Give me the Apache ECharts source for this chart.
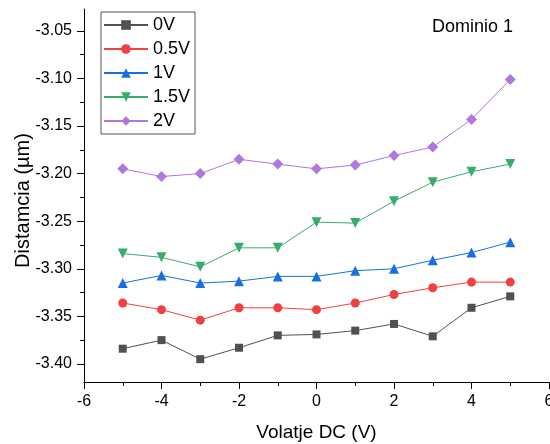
<!DOCTYPE html>
<html>
<head>
<meta charset="utf-8">
<script src="https://cdn.jsdelivr.net/npm/echarts@6/dist/echarts.min.js"></script>
<style>
html,body{margin:0;padding:0;background:#fff;}
#chart{width:550px;height:444px;}
</style>
</head>
<body>
<div id="chart"></div>
<script>
var voltajes = [-5, -4, -3, -2, -1, 0, 1, 2, 3, 4, 5];
var serieNombres = ['0V', '0.5V', '1V', '1.5V', '2V'];
var v0 = [-3.384, -3.375, -3.395, -3.383, -3.370, -3.369, -3.365, -3.358, -3.371, -3.341, -3.329];
var v05 = [-3.336, -3.343, -3.354, -3.341, -3.341, -3.343, -3.336, -3.327, -3.320, -3.314, -3.314];
var v1 = [-3.315, -3.307, -3.315, -3.313, -3.308, -3.308, -3.302, -3.300, -3.291, -3.283, -3.272];
var v15 = [-3.284, -3.288, -3.298, -3.278, -3.278, -3.251, -3.252, -3.229, -3.209, -3.198, -3.190];
var v2 = [-3.195, -3.203, -3.200, -3.185, -3.190, -3.195, -3.191, -3.181, -3.172, -3.143, -3.101];
var yTickLabels = [-3.40, -3.35, -3.30, -3.25, -3.20, -3.15, -3.10, -3.05];
var yMinorTicks = [-3.375, -3.325, -3.275, -3.225, -3.175, -3.125, -3.075];

var colores = ['#515151', '#f14040', '#1a6fdf', '#37ad6b', '#b177de'];
var simbolos = ['rect', 'circle', 'triangle', 'triangle', 'diamond'];
var tamanos = [8, 9, 10, 10, 11];
var rotaciones = [0, 0, 0, 180, 0];
var datos = [v0, v05, v1, v15, v2];

var font = 'Liberation Sans, Arial, sans-serif';
var yMin = -3.419, yMax = -3.027;

var series = serieNombres.map(function (n, i) {
  return {
    name: n,
    type: 'line',
    xAxisIndex: 0,
    yAxisIndex: 0,
    data: voltajes.map(function (x, k) { return [x, datos[i][k]]; }),
    symbol: simbolos[i],
    symbolSize: tamanos[i],
    symbolRotate: rotaciones[i],
    showAllSymbol: true,
    itemStyle: { color: colores[i] },
    lineStyle: { color: colores[i], width: 1 },
    emphasis: { disabled: true },
    animation: false
  };
});

var chart = echarts.init(document.getElementById('chart'), null, { renderer: 'canvas' });
chart.setOption({
  backgroundColor: '#ffffff',
  animation: false,
  title: {
    text: 'Dominio 1',
    left: 427, top: 13,
    textStyle: { fontFamily: font, fontSize: 18, fontWeight: 'normal', color: '#000' }
  },
  legend: {
    orient: 'vertical',
    left: 101, top: 12,
    padding: [4, 5, 4, 2],
    itemGap: 6,
    itemWidth: 44,
    itemHeight: 12,
    borderColor: '#555',
    borderWidth: 1,
    textStyle: { fontFamily: font, fontSize: 18, color: '#000' },
    data: serieNombres
  },
  grid: { left: 84, right: 1, top: 9, bottom: 62, containLabel: false, outerBoundsMode: 'none' },
  xAxis: [{
    type: 'value',
    min: -6, max: 6, interval: 2,
    name: 'Volatje DC (V)',
    nameLocation: 'middle',
    nameGap: 41,
    nameMoveOverlap: false,
    nameTextStyle: { fontFamily: font, fontSize: 19, color: '#000' },
    axisLine: { show: true, onZero: false, lineStyle: { color: '#000', width: 1 } },
    axisTick: { show: true, inside: false, length: 7, lineStyle: { color: '#000' } },
    minorTick: { show: true, splitNumber: 2, length: 4, lineStyle: { color: '#000' } },
    axisLabel: { fontFamily: font, fontSize: 16, color: '#000', margin: 12 },
    splitLine: { show: false }
  }, {
    type: 'value',
    show: false,
    min: 0, max: 12
  }],
  yAxis: [{
    type: 'value',
    position: 'left',
    min: yMin, max: yMax,
    name: 'Distamcia (µm)',
    nameLocation: 'middle',
    nameGap: 51,
    nameMoveOverlap: false,
    nameTextStyle: { fontFamily: font, fontSize: 20, color: '#000', padding: [0, 10, 0, 0] },
    axisLine: { show: true, onZero: false, lineStyle: { color: '#000', width: 1 } },
    axisTick: { show: true, inside: false, length: 7, customValues: yTickLabels, lineStyle: { color: '#000' } },
    axisLabel: {
      fontFamily: font, fontSize: 16, color: '#000', margin: 12,
      customValues: yTickLabels,
      formatter: function (v) { return v.toFixed(2); }
    },
    splitLine: { show: false }
  }, {
    type: 'value',
    position: 'right',
    min: yMin, max: yMax,
    axisLine: { show: false, onZero: true, onZeroAxisIndex: 1 },
    axisTick: { show: true, inside: true, length: 4, customValues: yMinorTicks, lineStyle: { color: '#000' } },
    axisLabel: { show: false },
    splitLine: { show: false }
  }],
  series: series
});
</script>
</body>
</html>
